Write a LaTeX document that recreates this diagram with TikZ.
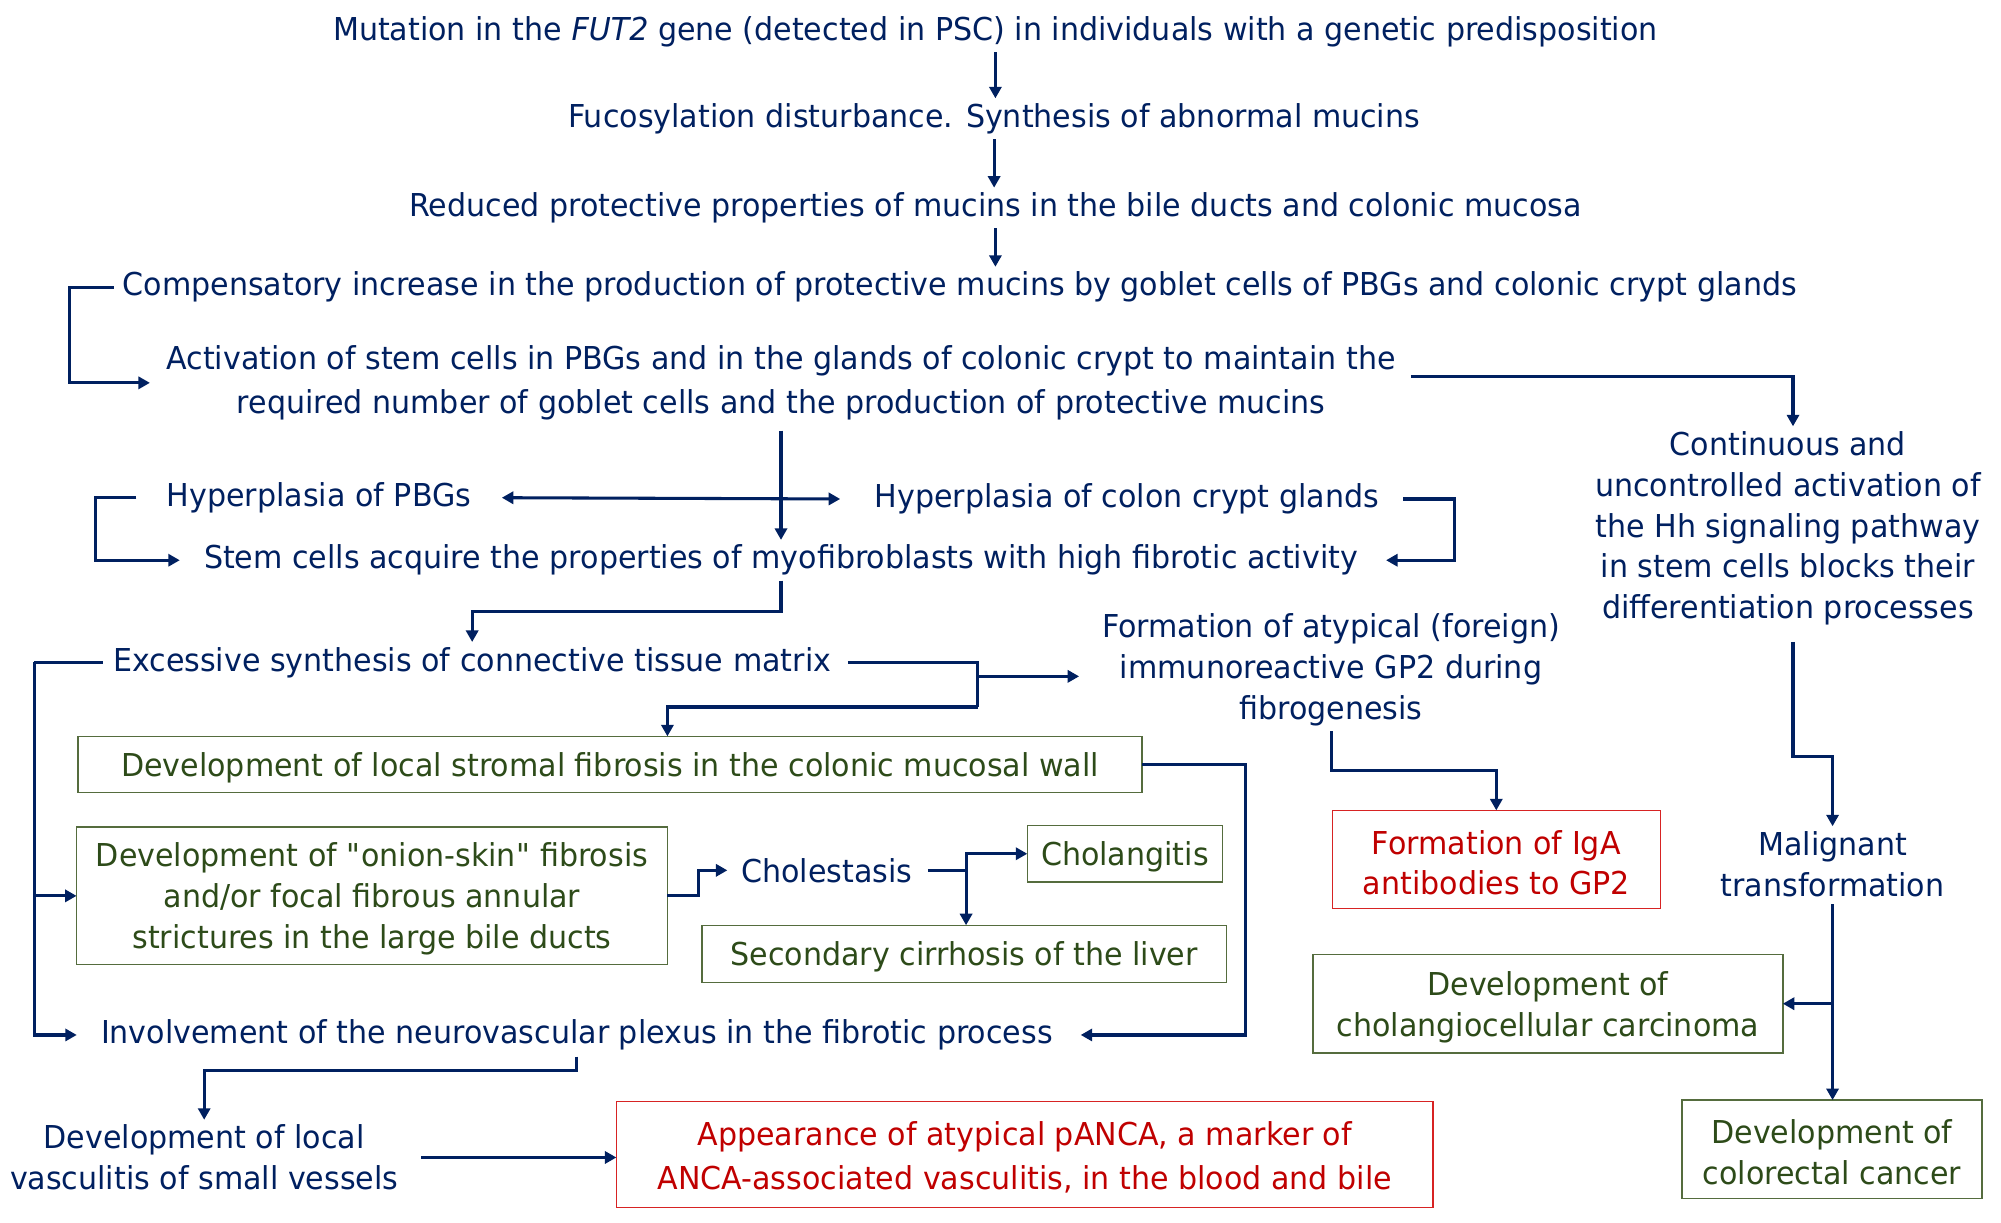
\documentclass[tikz,border=0pt]{standalone}
\usepackage{fontspec}
\setmainfont{DejaVu Sans}[FakeStretch=0.955]
\usepackage{xcolor}
\usetikzlibrary{arrows.meta}
\definecolor{navy}{RGB}{0,32,96}
\definecolor{leaf}{RGB}{45,75,25}
\definecolor{leafline}{RGB}{85,108,62}
\definecolor{alert}{RGB}{192,0,0}
\definecolor{alertline}{RGB}{215,35,35}
\newcommand{\boxstrut}{\rule{0pt}{23.8pt}}

\begin{document}
\begin{tikzpicture}[x=1pt, y=-1pt,
    every node/.style={font=\fontsize{24.7}{32}\selectfont, text=navy, align=center, inner sep=4pt, outer sep=0pt},
    link/.style={draw=navy, line width=2.4pt},
    arr/.style={link, -{Triangle[length=9pt,width=9.5pt]}},
    twoway/.style={link, {Triangle[length=9pt,width=9.5pt]}-{Triangle[length=9pt,width=9.5pt]}},
    greenbox/.style={draw=leafline, line width=1.1pt, text=leaf, inner sep=0pt},
    redbox/.style={draw=alertline, line width=1.1pt, text=alert, inner sep=0pt}]
    \fill[white] (0,0) rectangle (1568,958);
    \useasboundingbox (0,0) rectangle (1568,958);

    \node (mut) at (780,25) {Mutation in the \textit{FUT2} gene (detected in PSC) in individuals with a genetic predisposition};
    \node (fuc) at (779,93) {Fucosylation disturbance. Synthesis of abnormal mucins};
    \node (red) at (780,163) {Reduced protective properties of mucins in the bile ducts and colonic mucosa};
    \node (comp) at (752,225) {Compensatory increase in the production of protective mucins by goblet cells of PBGs and colonic crypt glands};
    \node (act) at (612,300) {Activation of stem cells in PBGs and in the glands of colonic crypt to maintain the\\[3pt]required number of goblet cells and the production of protective mucins};
    \node (hpbg) at (250,390) {Hyperplasia of PBGs};
    \node (hcol) at (883,391) {Hyperplasia of colon crypt glands};
    \node (stem) at (612,439) {Stem cells acquire the properties of myofibroblasts with high fibrotic activity};
    \node (cont) at (1401,414) {Continuous and\\uncontrolled activation of\\the Hh signaling pathway\\in stem cells blocks their\\differentiation processes};
    \node (exc) at (370,519) {Excessive synthesis of connective tissue matrix};
    \node (gp2) at (1043,525) {Formation of atypical (foreign)\\immunoreactive GP2 during\\fibrogenesis};
    \node[greenbox, minimum width=834pt, minimum height=44pt] (strom) at (478,599) {\boxstrut Development of local stromal fibrosis in the colonic mucosal wall};
    \node[greenbox, minimum width=463pt, minimum height=108pt] (onion) at (291.5,702) {\boxstrut Development of \textquotedbl onion-skin\textquotedbl{} fibrosis\\and/or focal fibrous annular\\strictures in the large bile ducts};
    \node (chol) at (648,682) {Cholestasis};
    \node[greenbox, minimum width=153pt, minimum height=44pt] (cgt) at (881.5,669) {\boxstrut Cholangitis};
    \node[greenbox, minimum width=411pt, minimum height=45pt] (cirr) at (755.5,747.5) {\boxstrut Secondary cirrhosis of the liver};
    \node[redbox, minimum width=257pt, minimum height=77pt] (iga) at (1172.5,673.5) {\boxstrut Formation of IgA\\antibodies to GP2};
    \node (mal) at (1436,677) {Malignant\\transformation};
    \node[greenbox, minimum width=368pt, minimum height=77pt] (cca) at (1213,786.5) {\boxstrut Development of\\cholangiocellular carcinoma};
    \node[greenbox, minimum width=235pt, minimum height=77pt] (crc) at (1435.5,900.5) {\boxstrut Development of\\colorectal cancer};
    \node (inv) at (452,811) {Involvement of the neurovascular plexus in the fibrotic process};
    \node (vas) at (160,907) {Development of local\\vasculitis of small vessels};
    \node[redbox, minimum width=640pt, minimum height=83pt] (panca) at (803,904.5) {\boxstrut Appearance of atypical pANCA, a marker of\\[2pt]ANCA-associated vasculitis, in the blood and bile};

    \draw[arr] (mut.south) -- (mut.south |- fuc.north);
    \draw[arr] (fuc.south) -- (fuc.south |- red.north);
    \draw[arr] (red.south) -- (red.south |- comp.north);
    \draw[arr] ([xshift=-3pt]comp.west) -- ++(-35,0) |- ([xshift=-9pt]act.west);
    \draw[arr] ([shift={(8pt,5pt)}]act.east) -| ([xshift=4pt]cont.north);
    \draw[arr] ([yshift=-4pt]act.south) -- (act.south |- stem.north);
    \draw[twoway] ([xshift=20pt]hpbg.east) -- ([xshift=-23pt]hcol.west);
    \draw[arr] ([xshift=-20pt]hpbg.west) -- ++(-32,0) |- ([xshift=-15pt]stem.west);
    \draw[arr] ([xshift=15pt]hcol.east) -- ++(40,0) |- ([xshift=18pt]stem.east);
    \draw[arr] (stem.south) -- ++(0,24) -| (exc.north);
    \draw[link] ([xshift=-4pt]exc.west) -- ++(-54,0) coordinate (exl);
    \draw[arr] (exl) |- (onion.west);
    \draw[arr] (exl) |- ([xshift=-15pt]inv.west);
    \draw[link] ([xshift=9pt]exc.east) -- ++(102,0) coordinate (exr) -- ++(0,35) coordinate (exd);
    \draw[arr] (exd) -| ([xshift=45pt]strom.north);
    \coordinate (gpin) at ([shift={(-14pt,-5pt)}]gp2.west);
    \draw[arr] (exr |- gpin) -- (gpin);
    \draw[arr] (strom.east) -- ++(81,0) |- ([xshift=18pt]inv.east);
    \draw[arr] (onion.east) -- ++(24,0) |- ([xshift=-7pt]chol.west);
    \draw[link] ([xshift=8pt]chol.east) -- ++(30,0) coordinate (chr);
    \draw[arr] (chr) |- (cgt.west);
    \draw[arr] (chr) -- (chr |- cirr.north);
    \draw[arr] (gp2.south) -- ++(0,31) -| (iga.north);
    \draw[arr] ([shift={(4pt,-9pt)}]cont.south) -- ++(0,90) -| (mal.north);
    \draw[arr] ([yshift=-2pt]mal.south) -- (mal.south |- crc.north);
    \draw[arr] (mal.south |- cca.east) -- (cca.east);
    \draw[arr] ([yshift=-1pt]inv.south) -- ++(0,11) -| (vas.north);
    \coordinate (vout) at ([xshift=14pt]vas.east);
    \draw[arr] (vout) -- (vout -| panca.west);
\end{tikzpicture}
\end{document}
